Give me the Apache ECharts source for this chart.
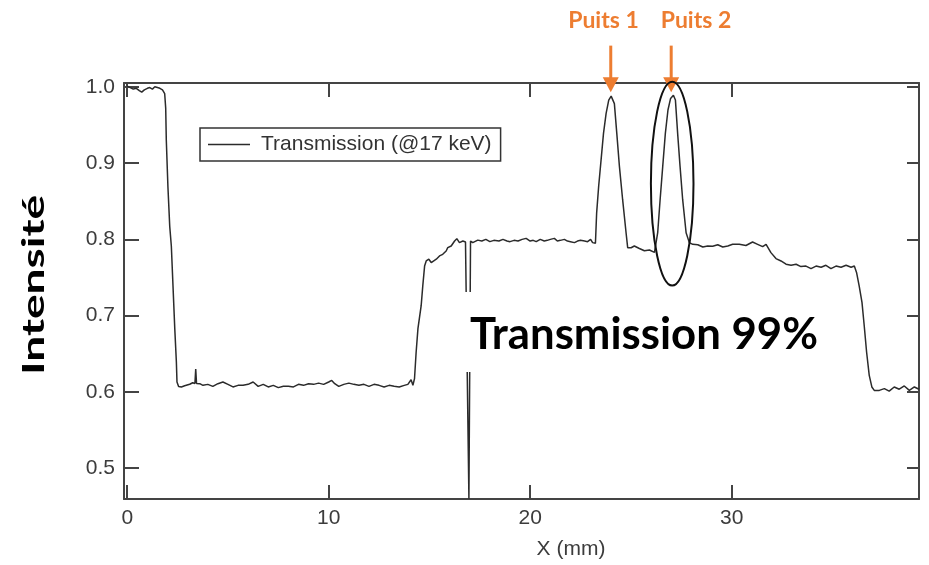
<!DOCTYPE html>
<html>
<head>
<meta charset="utf-8">
<script src="https://cdn.jsdelivr.net/npm/echarts@6/dist/echarts.min.js"></script>
<style>
html,body{margin:0;padding:0;background:#fff;}
#c{width:929px;height:565px;}
</style>
</head>
<body>
<div id="c"></div>
<script>
// ---- data ----
const seriesName = 'Transmission (@17 keV)';
const xTicks = [0, 10, 20, 30];
const yTicks = [0.5, 0.6, 0.7, 0.8, 0.9, 1.0];

const xs = [
  0.00,0.15,0.30,0.45,0.60,0.72,0.85,1.00,1.12,1.25,1.37,1.50,1.62,1.75,
  1.86,1.91,1.94,2.02,2.11,2.19,2.36,2.44,2.47,2.55,
  2.69,2.85,2.94,3.10,3.25,3.36,3.40,3.44,3.60,3.76,4.00,4.25,4.50,4.75,5.00,5.25,5.50,5.75,6.00,6.25,6.50,6.75,7.00,7.25,7.50,7.75,8.00,8.25,8.50,8.75,9.00,9.25,9.50,9.75,10.00,10.15,10.30,10.50,10.75,11.00,11.25,11.50,11.75,12.00,12.25,12.50,12.75,13.00,13.25,13.50,13.75,13.93,14.09,
  14.18,14.26,14.34,14.43,14.59,14.67,14.76,14.84,14.97,15.09,15.17,15.34,15.50,15.66,15.83,15.91,16.08,16.25,16.36,16.49,16.66,16.79,16.88,
  16.96,17.04,
  17.15,17.40,17.60,17.80,18.00,18.20,18.45,18.65,18.85,19.00,19.20,19.40,19.60,19.80,20.00,20.15,20.30,20.50,20.70,20.85,21.00,21.20,21.35,21.50,21.70,21.85,22.00,22.20,22.35,22.50,22.70,22.85,23.00,23.10,23.24,
  23.30,23.40,23.52,23.64,23.77,23.90,24.02,24.10,24.18,24.30,24.43,24.59,24.76,24.84,
  25.01,25.17,25.42,25.67,25.92,26.17,26.25,
  26.33,26.45,26.58,26.71,26.84,26.97,27.11,27.21,27.32,27.44,27.57,27.74,27.90,
  28.07,28.32,28.57,28.81,29.06,29.31,29.56,29.81,30.05,30.38,30.71,31.04,31.29,31.54,31.71,
  31.95,32.20,32.45,32.70,32.95,33.20,33.44,33.69,33.94,34.19,34.44,34.68,34.93,35.18,35.43,35.68,35.93,36.09,
  36.20,36.33,36.47,36.58,36.70,36.83,36.96,37.08,
  37.33,37.58,37.82,38.07,38.32,38.57,38.82,39.07,39.30
];
const ys = [
  1.001,0.999,0.997,0.998,0.995,0.993,0.996,0.998,0.999,0.997,1.000,0.999,0.998,0.996,
  0.991,0.972,0.930,0.869,0.817,0.791,0.683,0.639,0.613,0.607,
  0.6065,0.608,0.6086,0.610,0.612,0.611,0.630,0.611,0.6108,0.6086,0.6099,0.6073,0.6108,0.613,0.6099,0.6065,0.6086,0.6086,0.6099,0.613,0.6073,0.6099,0.6065,0.6086,0.6056,0.6073,0.6073,0.6065,0.6099,0.6086,0.6108,0.6099,0.6115,0.6099,0.613,0.6151,0.6108,0.6073,0.6099,0.6115,0.6099,0.6086,0.6099,0.6073,0.6099,0.6086,0.6065,0.6086,0.6073,0.6065,0.6086,0.6099,0.616,
  0.6088,0.6175,0.652,0.683,0.713,0.739,0.765,0.7717,0.774,0.7696,0.7717,0.774,0.7783,0.7804,0.7848,0.7891,0.7913,0.7978,0.8009,0.7957,0.7978,0.7965,0.7978,
  0.460,0.7978,
  0.7957,0.799,0.7978,0.800,0.797,0.7987,0.7978,0.800,0.7978,0.797,0.7987,0.7978,0.800,0.8013,0.7978,0.7987,0.797,0.800,0.7978,0.7987,0.800,0.8013,0.7978,0.7987,0.800,0.7978,0.797,0.7957,0.7978,0.7987,0.7978,0.797,0.800,0.7957,0.7948,
  0.8348,0.8696,0.9043,0.939,0.9652,0.9826,0.9878,0.989,0.978,0.939,0.8957,0.852,0.8087,0.7891,
  0.789,0.7913,0.788,0.785,0.786,0.783,0.7848,
  0.8087,0.852,0.8957,0.939,0.9696,0.9848,0.989,0.9826,0.939,0.8957,0.852,0.8087,0.7957,
  0.7935,0.793,0.790,0.7913,0.791,0.793,0.790,0.7913,0.7935,0.7935,0.792,0.7965,0.7935,0.7904,0.7935,
  0.7826,0.7748,0.7717,0.7674,0.766,0.7674,0.7643,0.765,0.7617,0.765,0.7635,0.766,0.7617,0.765,0.7635,0.766,0.7635,0.765,
  0.7566,0.739,0.7174,0.687,0.652,0.6217,0.6065,0.602,
  0.602,0.6043,0.601,0.6065,0.6035,0.6078,0.602,0.6065,0.6035
];
// annotation anchors (data units)
const peakXs = [24.0, 27.0];
const peakLabels = ['Puits 1', 'Puits 2'];

// ---- chart ----
const X_MIN = -0.16, X_MAX = 39.3, Y_MIN = 0.4596, Y_MAX = 1.005;
const AXIS_COLOR = '#444';
const LABEL_COLOR = '#3c3c3c';
const FONT = "'Liberation Sans', Arial, sans-serif";
const ORANGE = '#ED7D31';

const chart = echarts.init(document.getElementById('c'), null, {renderer: 'canvas'});
const data = xs.map((x, i) => [x, ys[i]]);

function xAxisCfg(pos, showLabel) {
  return {
    type: 'value', position: pos, min: X_MIN, max: X_MAX,
    axisLine: {show: true, onZero: false, lineStyle: {color: AXIS_COLOR, width: 2}},
    axisTick: {show: true, inside: true, length: 14, customValues: xTicks, lineStyle: {color: AXIS_COLOR, width: 2}},
    axisLabel: {show: showLabel, customValues: xTicks, margin: 9, color: LABEL_COLOR, fontSize: 21, fontFamily: FONT},
    splitLine: {show: false}
  };
}
function yAxisCfg(pos, showLabel) {
  return {
    type: 'value', position: pos, min: Y_MIN, max: Y_MAX,
    axisLine: {show: true, onZero: false, lineStyle: {color: AXIS_COLOR, width: 2}},
    axisTick: {show: true, inside: true, length: pos === 'left' ? 15 : 12, customValues: yTicks, lineStyle: {color: AXIS_COLOR, width: 2}},
    axisLabel: {show: showLabel, customValues: yTicks, margin: 9, color: LABEL_COLOR, fontSize: 21, fontFamily: FONT,
      formatter: v => v.toFixed(1)},
    splitLine: {show: false}
  };
}

const xMain = xAxisCfg('bottom', true);
xMain.name = 'X (mm)';
xMain.nameLocation = 'middle';
xMain.nameGap = 40;
xMain.nameTextStyle = {color: LABEL_COLOR, fontSize: 21, fontFamily: FONT, padding: [0, 0, 0, 99]};

const option = {
  animation: false,
  backgroundColor: '#fff',
  grid: {left: 124, right: 10, top: 83, bottom: 64, containLabel: false},
  xAxis: [xMain, xAxisCfg('top', false)],
  yAxis: [yAxisCfg('left', true), yAxisCfg('right', false)],
  legend: {
    data: [seriesName], left: 200, top: 128,
    padding: [6, 9, 6, 8], borderColor: '#333', borderWidth: 1.5, borderRadius: 0,
    backgroundColor: '#fff',
    icon: 'rect', itemWidth: 42, itemHeight: 1.6,
    textStyle: {fontSize: 21, fontFamily: FONT, color: '#333', padding: [0, 0, 0, 6]}
  },
  series: [{
    name: seriesName, type: 'line', xAxisIndex: 0, yAxisIndex: 0,
    data: data, symbol: 'none', showSymbol: false,
    lineStyle: {color: '#2b2b2b', width: 1.5},
    itemStyle: {color: '#2b2b2b'},
    z: 2
  }]
};
chart.setOption(option);

// ---- annotations placed via the chart's own scales ----
function px(x, y) { return chart.convertToPixel({xAxisIndex: 0, yAxisIndex: 0}, [x, y]); }
function measure(text, font) {
  const ctx = document.createElement('canvas').getContext('2d');
  ctx.font = font; return ctx.measureText(text).width;
}

const graphics = [];
// white box behind the big caption
graphics.push({type: 'rect', shape: {x: 462, y: 292, width: 368, height: 80}, style: {fill: '#fff'}, z: 10});
const capFont = "bold 44px Lato, 'Open Sans', sans-serif";
const capText = 'Transmission 99%';
const capScale = 348 / measure(capText, capFont);
graphics.push({type: 'text', x: 470, y: 335, scaleX: capScale, z: 11,
  style: {text: capText, font: capFont, fill: '#000', align: 'left', verticalAlign: 'middle'}});

// y-axis title
const yFont = "bold 31px Lato, 'Open Sans', sans-serif";
const yText = 'Intensité';
const yScale = 180 / measure(yText, yFont);
graphics.push({type: 'text', x: 34, y: 285, rotation: Math.PI / 2, scaleX: yScale, z: 11,
  style: {text: yText, font: yFont, fill: '#000', align: 'center', verticalAlign: 'middle'}});

// Puits labels and arrows
const labelCenters = [603.5, 696];
const pFont = "bold 23px Lato, 'Open Sans', sans-serif";
peakXs.forEach((xv, i) => {
  const top = px(xv, 1.054), tip = px(xv, 0.993);
  const ax = top[0];
  graphics.push({type: 'line', shape: {x1: ax, y1: top[1], x2: ax, y2: tip[1] - 12}, style: {stroke: ORANGE, lineWidth: 3}, z: 12});
  graphics.push({type: 'polygon', shape: {points: [[ax - 8, tip[1] - 15], [ax + 8, tip[1] - 15], [ax, tip[1]]]}, style: {fill: ORANGE}, z: 12});
  graphics.push({type: 'text', x: labelCenters[i], y: 21, z: 12,
    style: {text: peakLabels[i], font: pFont, fill: ORANGE, align: 'center', verticalAlign: 'middle'}});
});

// ellipse around Puits 2
const ec = px(27.05, 0.873);
const ex = px(28.107, 0.873);
const ey = px(27.05, 1.0066);
graphics.push({type: 'ellipse', shape: {cx: ec[0], cy: ec[1], rx: ex[0] - ec[0], ry: ec[1] - ey[1]},
  style: {fill: 'none', stroke: '#111', lineWidth: 2}, z: 12});

chart.setOption({graphic: graphics});
</script>
</body>
</html>
